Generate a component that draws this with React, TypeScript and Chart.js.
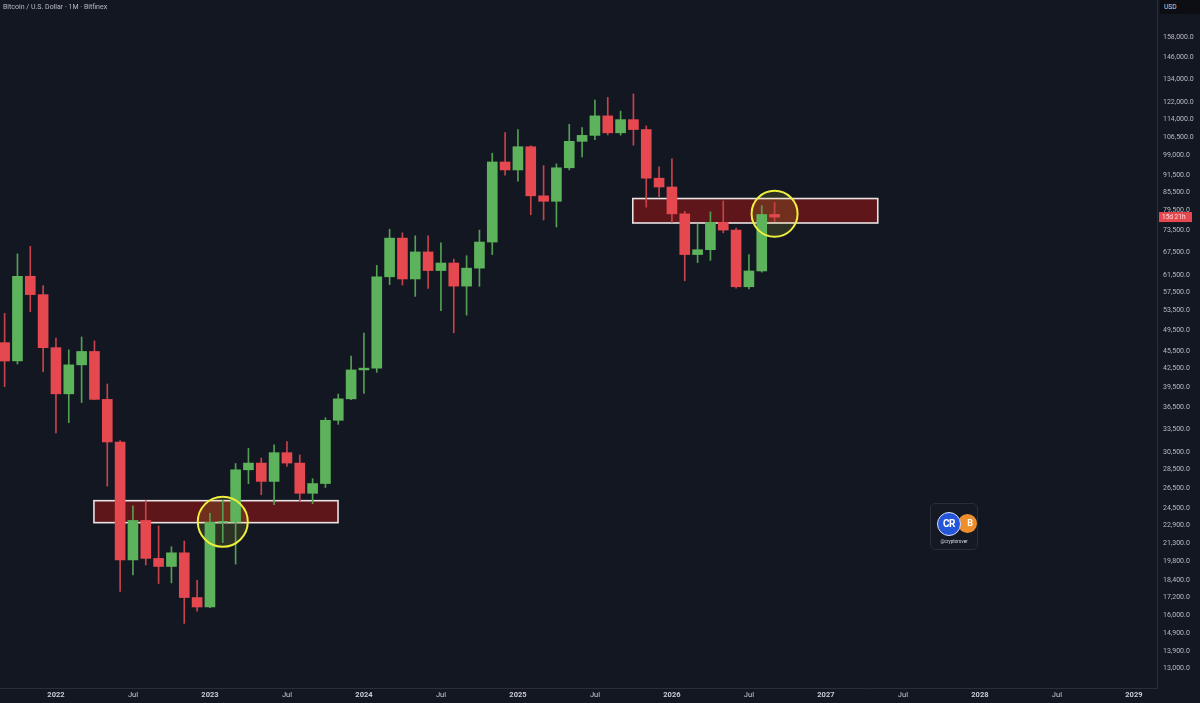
import React, { useEffect, useRef } from 'react';
import { Chart, registerables } from 'chart.js';

Chart.register(...registerables);

// ---------- DATA (monthly candles, Bitfinex BTC/USD) ----------
const months = [
  '2021-09', '2021-10', '2021-11', '2021-12',
  '2022-01', '2022-02', '2022-03', '2022-04', '2022-05', '2022-06', '2022-07', '2022-08', '2022-09', '2022-10', '2022-11', '2022-12',
  '2023-01', '2023-02', '2023-03', '2023-04', '2023-05', '2023-06', '2023-07', '2023-08', '2023-09', '2023-10', '2023-11', '2023-12',
  '2024-01', '2024-02', '2024-03', '2024-04', '2024-05', '2024-06', '2024-07', '2024-08', '2024-09', '2024-10', '2024-11', '2024-12',
  '2025-01', '2025-02', '2025-03', '2025-04', '2025-05', '2025-06', '2025-07', '2025-08', '2025-09', '2025-10', '2025-11', '2025-12',
  '2026-01', '2026-02', '2026-03', '2026-04', '2026-05', '2026-06', '2026-07', '2026-08', '2026-09',
];

const opens = [
  47130, 43820, 61300, 57000,
  46200, 38480, 43160, 45510, 37640, 31800, 19930, 23300, 20050, 19420, 20500, 17170,
  16540, 23130, 23150, 28480, 29250, 27200, 30480, 29250, 25950, 26970, 34650, 37720,
  42300, 42600, 61170, 71300, 60650, 67500, 62700, 64600, 58950, 63300, 70200, 96400,
  93400, 102400, 84300, 82500, 94200, 104600, 107100, 115700, 108200, 114000, 109600, 90400,
  87300, 78500, 66800, 68100, 75900, 73600, 58800, 62600, 78300,
];

const highs = [
  52920, 67000, 69000, 59100,
  47990, 45800, 48200, 47450, 40000, 31960, 24680, 25200, 22800, 21000, 21480, 18390,
  23960, 25250, 29200, 31000, 29840, 31440, 31860, 30200, 27500, 35000, 38440, 44700,
  48970, 64000, 73800, 72800, 71950, 71950, 70000, 65600, 66500, 73600, 99800, 108300,
  109600, 102800, 95000, 95700, 111900, 110500, 123200, 124500, 117900, 126200, 111200, 94600,
  97600, 79300, 75400, 79100, 82600, 74200, 66800, 81100, 82100,
];

const lows = [
  39600, 43300, 53250, 42000,
  32950, 34320, 37170, 37600, 26700, 17600, 18780, 19540, 18150, 18200, 15500, 16270,
  16500, 21350, 19600, 26950, 25800, 24800, 28870, 25150, 24900, 26550, 34100, 37600,
  38550, 41900, 59300, 59200, 56600, 58400, 53500, 49000, 52550, 58900, 66800, 91500,
  89300, 78200, 76600, 74500, 93400, 98300, 105300, 107300, 107200, 103000, 80600, 84000,
  75900, 60200, 64700, 65300, 72800, 58500, 58300, 62300, 76200,
];

const closes = [
  43820, 61300, 57000, 46200,
  38480, 43160, 45510, 37640, 31800, 19930, 23300, 20050, 19420, 20500, 17170, 16540,
  23130, 23150, 28480, 29250, 27200, 30480, 29250, 25950, 26970, 34650, 37720, 42300,
  42600, 61170, 71300, 60650, 67500, 62700, 64600, 58950, 63300, 70200, 96400, 93400,
  102400, 84300, 82500, 94200, 104600, 107100, 115700, 108200, 114000, 109600, 90400, 87300,
  78500, 66800, 68100, 75900, 73600, 58800, 62600, 78300, 77500,
];

// month index of the first candle, counted from Jan 2022 = 0
const FIRST_MONTH_INDEX = -4;

// time axis
const timeTickValues = [0, 6, 12, 18, 24, 30, 36, 42, 48, 54, 60, 66, 72, 78, 84];
const timeTickLabels = ['2022', 'Jul', '2023', 'Jul', '2024', 'Jul', '2025', 'Jul', '2026', 'Jul', '2027', 'Jul', '2028', 'Jul', '2029'];

// price axis
const priceTicks = [
  13000, 13900, 14900, 16000, 17200, 18400, 19800, 21300, 22900, 24500, 26500, 28500, 30500,
  33500, 36500, 39500, 42500, 45500, 49500, 53500, 57500, 61500, 67500, 73500, 79500, 85500,
  91500, 99000, 106500, 114000, 122000, 134000, 146000, 158000,
];

// resistance / support zones (month index, price)
const zoneStartMonths = [2.96, 44.95];
const zoneEndMonths = [21.98, 64.04];
const zoneLowPrices = [23100, 75700];
const zoneHighPrices = [25200, 83400];

// highlighted points
const circleMonths = [13, 56];
const circlePrices = [23180, 78500];

const countdownText = '15d 21h';

// ---------- STYLE ----------
const BG = '#131722';
const UP = '#5db35b';
const DOWN = '#e5484f';
const UP_WICK = '#53a052';
const DOWN_WICK = '#c8424a';
const AXIS_LINE = '#2a2e39';
const TEXT = '#b8bbc4';
const FONT = 'Roboto, "Noto Sans", "DejaVu Sans", sans-serif';

export default function App() {
  const canvasRef = useRef<HTMLCanvasElement | null>(null);

  useEffect(() => {
    const canvas = canvasRef.current;
    if (!canvas) return;

    const xs = months.map((_, i) => FIRST_MONTH_INDEX + i);
    const colors = closes.map((c, i) => (c >= opens[i] ? UP : DOWN));
    const wickColors = closes.map((c, i) => (c >= opens[i] ? UP_WICK : DOWN_WICK));

    const overlayPlugin = {
      id: 'overlays',
      beforeDatasetsDraw(chart: any) {
        const { ctx, chartArea, scales } = chart;
        const x = scales.x;
        const y = scales.y;
        ctx.save();
        ctx.beginPath();
        ctx.rect(chartArea.left, chartArea.top, chartArea.right - chartArea.left, chartArea.bottom - chartArea.top);
        ctx.clip();
        for (let k = 0; k < zoneStartMonths.length; k++) {
          const x1 = x.getPixelForValue(zoneStartMonths[k]);
          const x2 = x.getPixelForValue(zoneEndMonths[k]);
          const y1 = y.getPixelForValue(zoneHighPrices[k]);
          const y2 = y.getPixelForValue(zoneLowPrices[k]);
          ctx.fillStyle = 'rgba(112, 22, 24, 0.82)';
          ctx.fillRect(x1, y1, x2 - x1, y2 - y1);
          ctx.strokeStyle = '#e9e4e4';
          ctx.lineWidth = 1.6;
          ctx.strokeRect(x1, y1, x2 - x1, y2 - y1);
        }
        for (let k = 0; k < circleMonths.length; k++) {
          const cx = x.getPixelForValue(circleMonths[k]);
          const cy = y.getPixelForValue(circlePrices[k]);
          ctx.beginPath();
          ctx.arc(cx, cy, k === 0 ? 25 : 23, 0, Math.PI * 2);
          ctx.fillStyle = 'rgba(235, 235, 60, 0.13)';
          ctx.fill();
        }
        ctx.restore();
      },
      afterDatasetsDraw(chart: any) {
        const { ctx, scales } = chart;
        const x = scales.x;
        const y = scales.y;
        ctx.save();
        for (let k = 0; k < circleMonths.length; k++) {
          const cx = x.getPixelForValue(circleMonths[k]);
          const cy = y.getPixelForValue(circlePrices[k]);
          ctx.beginPath();
          ctx.arc(cx, cy, k === 0 ? 25 : 23, 0, Math.PI * 2);
          ctx.strokeStyle = '#eeee3c';
          ctx.lineWidth = 2;
          ctx.stroke();
        }
        ctx.restore();
      },
      afterDraw(chart: any) {
        const { ctx, chartArea, scales } = chart;
        const y = scales.y;
        const last = closes[closes.length - 1];
        const py = y.getPixelForValue(last);
        ctx.save();
        ctx.fillStyle = '#e5484f';
        ctx.fillRect(chartArea.right + 2, py - 5, 33, 10);
        ctx.fillStyle = '#fbe3e5';
        ctx.font = `6.5px ${FONT}`;
        ctx.textBaseline = 'middle';
        ctx.textAlign = 'left';
        ctx.fillText(countdownText, chartArea.right + 5, py + 0.5);
        ctx.restore();
      },
    };

    const chart = new Chart(canvas, {
      type: 'bar',
      data: {
        datasets: [
          {
            label: 'wicks',
            data: xs.map((x, i) => ({ x, y: [lows[i], highs[i]] })) as any,
            backgroundColor: wickColors,
            borderWidth: 0,
            barThickness: 1,
            grouped: false,
            order: 2,
          } as any,
          {
            label: 'bodies',
            data: xs.map((x, i) => ({ x, y: [opens[i], closes[i]] })) as any,
            backgroundColor: colors,
            borderWidth: 0,
            barThickness: 10,
            minBarLength: 1,
            grouped: false,
            order: 1,
          } as any,
        ],
      },
      options: {
        animation: false,
        responsive: true,
        maintainAspectRatio: false,
        layout: { padding: 0 },
        plugins: {
          legend: { display: false },
          tooltip: { enabled: false },
          title: { display: false },
        },
        scales: {
          x: {
            type: 'linear',
            min: -4.36,
            max: 85.8,
            offset: false,
            grid: { display: false, drawTicks: false },
            border: { display: true, color: AXIS_LINE, width: 1 },
            afterBuildTicks: (scale: any) => {
              scale.ticks = timeTickValues.map((v) => ({ value: v }));
            },
            afterFit: (scale: any) => {
              scale.height = 15;
              scale.paddingLeft = 0;
              scale.paddingRight = 0;
            },
            ticks: {
              autoSkip: false,
              maxRotation: 0,
              padding: 3,
              color: '#c9ccd4',
              font: (ctx: any) => {
                const v = ctx.tick ? ctx.tick.value : 0;
                const idx = timeTickValues.indexOf(v);
                const lab = idx >= 0 ? timeTickLabels[idx] : '';
                return { family: FONT, size: 7.5, weight: lab === 'Jul' ? 'normal' : 'bold' } as any;
              },
              callback: (value: any) => {
                const idx = timeTickValues.indexOf(Number(value));
                return idx >= 0 ? timeTickLabels[idx] : '';
              },
            },
          } as any,
          y: {
            type: 'logarithmic',
            position: 'right',
            min: 12000,
            max: 183100,
            grid: { display: false, drawTicks: false },
            border: { display: true, color: AXIS_LINE, width: 1 },
            afterBuildTicks: (scale: any) => {
              scale.ticks = priceTicks.map((v) => ({ value: v }));
            },
            afterFit: (scale: any) => {
              scale.width = 43;
              scale.paddingTop = 0;
              scale.paddingBottom = 0;
            },
            ticks: {
              autoSkip: false,
              padding: 6,
              color: TEXT,
              font: { family: FONT, size: 7 },
              callback: (value: any) => Number(value).toLocaleString('en-US') + '.0',
            },
          } as any,
        },
      },
      plugins: [overlayPlugin],
    });

    return () => chart.destroy();
  }, []);

  return (
    <div style={{ position: 'fixed', left: 0, top: 0, width: 1200, height: 703, background: BG, overflow: 'hidden' }}>
      <canvas ref={canvasRef} />
      <div
        style={{
          position: 'absolute', left: 3, top: 2, fontFamily: FONT, fontSize: 7, color: '#b8bbc4',
          lineHeight: '10px', whiteSpace: 'nowrap',
        }}
      >
        Bitcoin / U.S. Dollar · 1M · Bitfinex
      </div>
      <div
        style={{
          position: 'absolute', left: 1160, top: 0, width: 40, height: 14, background: '#0c0e13',
          fontFamily: FONT, fontSize: 6.6, color: '#d1d4dc', lineHeight: '14px', paddingLeft: 4, boxSizing: 'border-box',
        }}
      >
        USD
      </div>
      <div
        style={{
          position: 'absolute', left: 930, top: 503, width: 48, height: 47, border: `1px solid ${AXIS_LINE}`,
          borderRadius: 5, boxSizing: 'border-box', background: '#151924',
        }}
      >
        <div
          style={{
            position: 'absolute', left: 27, top: 10, width: 19, height: 19, borderRadius: '50%', background: '#ef8f2c',
            color: '#fff', fontFamily: FONT, fontWeight: 'bold', fontSize: 9, lineHeight: '19px', textAlign: 'right',
            paddingRight: 4, boxSizing: 'border-box',
          }}
        >
          B
        </div>
        <div
          style={{
            position: 'absolute', left: 6, top: 8, width: 24, height: 24, borderRadius: '50%', background: '#2356d8',
            border: '1px solid #d9dff5', boxSizing: 'border-box', color: '#fff', fontFamily: FONT, fontWeight: 'bold',
            fontSize: 10, lineHeight: '22px', textAlign: 'center', letterSpacing: -0.5,
          }}
        >
          CR
        </div>
        <div
          style={{
            position: 'absolute', left: 0, top: 35, width: 46, textAlign: 'center', color: '#d9dce4', fontFamily: FONT,
            fontSize: 4.6, lineHeight: '6px', whiteSpace: 'nowrap',
          }}
        >
          @cryptorover
        </div>
      </div>
    </div>
  );
}
